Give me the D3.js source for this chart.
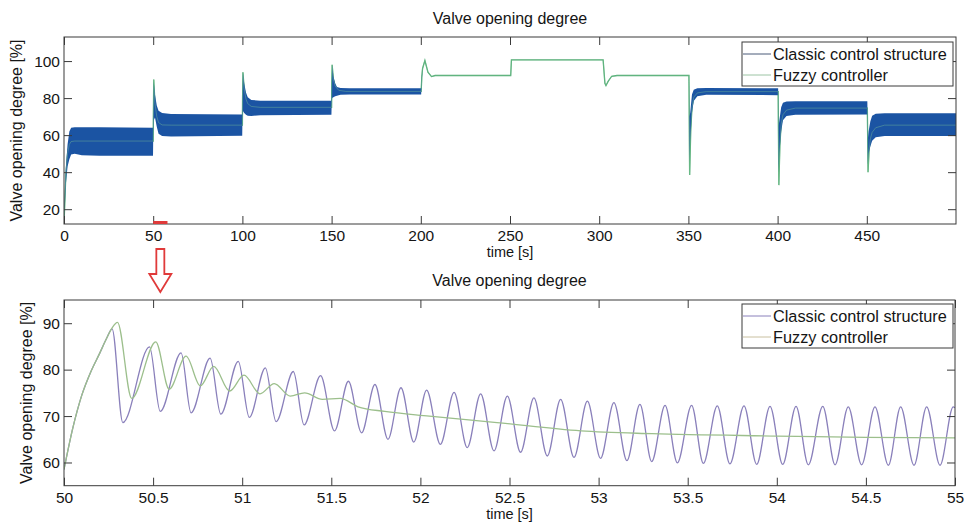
<!DOCTYPE html>
<html>
<head>
<meta charset="utf-8">
<script src="https://cdn.jsdelivr.net/npm/d3@7"></script>
<style>
  body { margin: 0; background: #ffffff; }
  text { font-family: "Liberation Sans", Arial, Helvetica, sans-serif; fill: #151515; }
</style>
</head>
<body>
<svg id="chart" width="969" height="524"></svg>
<script>
// ---------------- DATA ----------------
const seriesNames = ["Classic control structure", "Fuzzy controller"];
const chartTitle = "Valve opening degree";
const xAxisLabel = "time [s]";
const yAxisLabel = "Valve opening degree [%]";

// Overview (0–500 s)
const overviewTicksX = [0, 50, 100, 150, 200, 250, 300, 350, 400, 450];
const overviewTicksY = [20, 40, 60, 80, 100];
// Classic controller: oscillation envelope (upper / lower) of the dense band
const classicTopTime  = [0, 0.5, 1, 2, 3, 4, 6, 10, 20, 49.9, 50.02, 50.3, 51, 52, 53, 55, 60, 99.9, 100.02, 100.3, 101, 102, 103, 105, 110, 149.9, 150.02, 150.3, 151, 152, 153, 155, 160, 200.2, 200.6, 201, 202.3, 204, 206, 208, 250.4, 250.8, 302.2, 303.2, 303.8, 305, 307, 310, 350.3, 350.6, 351, 352, 353, 355, 360, 400.3, 400.6, 401, 402, 403, 405, 410, 450.3, 450.6, 451, 452, 453, 455, 460, 500];
const classicTopUpper = [12, 30, 42, 55, 62, 64, 64.3, 64.3, 64.2, 64, 72, 89, 81.8, 76, 73.2, 72, 71.4, 71.2, 80, 94, 88, 83, 80.5, 79, 78.6, 78.6, 86, 98, 92, 88, 86, 85.4, 85.3, 85.3, 92, 96, 100.3, 94, 91.6, 92.2, 92.2, 100.6, 100.6, 88, 86.8, 89, 91.8, 92.2, 92.2, 70, 72, 82, 84.5, 85.3, 85.4, 85.3, 65, 68, 75, 77.5, 78.2, 78.3, 78.3, 58, 62, 67.5, 70.5, 71.5, 71.8, 71.8];
const classicTopLower = [12, 22, 33, 43, 47, 49.5, 50, 49.2, 48.8, 48.8, 60, 68, 69.5, 64.5, 60.7, 59.5, 59.3, 59.6, 68, 73, 72, 71, 70.5, 70.3, 70.8, 71, 76, 80, 80.5, 81, 81.3, 81.8, 82, 82, 90, 96, 100.3, 94, 91.6, 92.2, 92.2, 100.6, 100.6, 88, 86.8, 89, 91.8, 92.2, 92.2, 45, 57, 72, 78.5, 81, 81.8, 81.6, 40, 50, 62, 68, 70.3, 71, 71.2, 44, 50, 54, 57, 58.8, 59.5, 59.5];
// Fuzzy controller: smooth response
const fuzzyTopTime  = [0, 0.5, 1, 2, 3, 4, 6, 50, 50.1, 50.3, 51, 52, 53, 55, 60, 100, 100.1, 100.3, 101, 102, 103, 105, 110, 150, 150.1, 150.3, 151, 152, 154, 158, 200.2, 200.6, 201, 202.3, 204, 206, 208, 250.4, 250.8, 302.2, 303.2, 303.8, 305, 307, 310, 350.3, 350.7, 351.3, 352, 353, 355, 360, 400.3, 400.7, 401.3, 402, 403, 405, 410, 450.3, 450.7, 451.3, 452, 453, 455, 460, 500];
const fuzzyTopValue = [12, 25, 38, 50, 55, 56.5, 56.8, 56.8, 70, 90, 77, 70, 66.8, 65.5, 65.4, 65.4, 80, 94, 85, 79.5, 77, 75.5, 75, 75, 88, 98, 90, 86.5, 84.2, 83.6, 83.6, 92, 96, 100.3, 94, 91.6, 92.2, 92.2, 100.6, 100.6, 88, 86.8, 89, 91.8, 92.2, 92.2, 38.5, 62, 75, 80.5, 82.8, 83.5, 83.5, 33, 55, 66, 71, 73.5, 74.6, 74.6, 40, 52, 58, 61.5, 64, 65.4, 65.4];
// zoom window marker on the overview plot
const zoomWindow = [50, 58];

// Detail (50–55 s)
const detailTicksX = [50, 50.5, 51, 51.5, 52, 52.5, 53, 53.5, 54, 54.5, 55];
const detailTicksY = [60, 70, 80, 90];
const classicZoomTime  = [50.00, 50.05, 50.10, 50.15, 50.20, 50.24, 50.27, 50.33, 50.48, 50.54, 50.657, 50.713, 50.82, 50.88, 50.978, 51.04, 51.13, 51.19, 51.287, 51.347, 51.44, 51.518, 51.596, 51.67, 51.745, 51.818, 51.891, 51.963, 52.035, 52.112, 52.189, 52.263, 52.338, 52.413, 52.488, 52.562, 52.637, 52.712, 52.787, 52.862, 52.937, 53.011, 53.086, 53.159, 53.232, 53.298, 53.373, 53.442, 53.522, 53.588, 53.666, 53.737, 53.816, 53.887, 53.962, 54.033, 54.108, 54.177, 54.258, 54.327, 54.401, 54.476, 54.551, 54.626, 54.695, 54.77, 54.841, 54.916, 54.99, 55.0];
const classicZoomValue = [58.5, 67.5, 74.5, 79.5, 83.5, 86.8, 88.8, 68.6, 84.9, 71.0, 83.6, 70.7, 82.5, 70.4, 81.8, 69.7, 80.4, 68.8, 79.6, 68.1, 78.7, 66.8, 77.5, 66.4, 76.8, 65.0, 76.1, 64.4, 75.6, 63.9, 75.1, 63.2, 74.8, 62.5, 74.3, 62.2, 73.9, 61.4, 73.6, 61.1, 73.2, 60.9, 72.9, 60.4, 72.5, 60.2, 72.3, 59.9, 72.3, 59.8, 72.2, 59.7, 72.2, 59.6, 72.1, 59.6, 72.1, 59.5, 72.1, 59.5, 72.0, 59.5, 72.0, 59.4, 72.0, 59.4, 72.0, 59.4, 72.0, 71.8];
const fuzzyZoomTime  = [50.00, 50.05, 50.10, 50.15, 50.20, 50.24, 50.27, 50.30, 50.38, 50.515, 50.59, 50.685, 50.765, 50.84, 50.93, 51.01, 51.10, 51.18, 51.27, 51.35, 51.45, 51.55, 51.65, 51.80, 52.05, 52.43, 52.9, 53.3, 54.0, 54.5, 55.0];
const fuzzyZoomValue = [58.5, 67.5, 74.5, 79.5, 83.5, 86.8, 89.0, 90.2, 73.8, 86.0, 75.8, 82.9, 76.5, 80.7, 75.4, 78.8, 74.8, 77.0, 74.3, 75.0, 73.6, 73.8, 72.0, 71.0, 70.0, 68.6, 66.8, 66.2, 65.7, 65.4, 65.3];

// ---------------- DRAWING ----------------
const svg = d3.select("#chart");
const zip2 = (a, b) => a.map((v, i) => [v, b[i]]);
const zip3 = (a, b, c) => a.map((v, i) => [v, b[i], c[i]]);

const colors = {
  classicTop: "#1b54a3",
  fuzzyTop: "#4fab72",
  classicZoom: "#8a80bb",
  fuzzyZoom: "#9cbf8c",
  frame: "#3a3a3a",
  red: "#e03a3a"
};

function drawFrame(g, x, y, box, ticksX, ticksY, fmtX) {
  const tick = 8;
  g.append("g").attr("transform", `translate(0,${box.bottom})`)
    .call(d3.axisBottom(x).tickValues(ticksX).tickSize(-tick).tickPadding(6).tickFormat(fmtX))
    .call(a => { a.select(".domain").remove(); a.selectAll("text").style("font-size", "15.5px").attr("fill", "#151515"); a.selectAll("line").attr("stroke", colors.frame); });
  g.append("g").attr("transform", `translate(0,${box.top})`)
    .call(d3.axisTop(x).tickValues(ticksX).tickSize(-tick).tickFormat(""))
    .call(a => { a.select(".domain").remove(); a.selectAll("line").attr("stroke", colors.frame); });
  g.append("g").attr("transform", `translate(${box.left},0)`)
    .call(d3.axisLeft(y).tickValues(ticksY).tickSize(-tick).tickPadding(4))
    .call(a => { a.select(".domain").remove(); a.selectAll("text").style("font-size", "15.5px").attr("fill", "#151515"); a.selectAll("line").attr("stroke", colors.frame); });
  g.append("g").attr("transform", `translate(${box.right},0)`)
    .call(d3.axisRight(y).tickValues(ticksY).tickSize(-tick).tickFormat(""))
    .call(a => { a.select(".domain").remove(); a.selectAll("line").attr("stroke", colors.frame); });
  g.append("rect").attr("x", box.left).attr("y", box.top)
    .attr("width", box.right - box.left).attr("height", box.bottom - box.top)
    .attr("fill", "none").attr("stroke", colors.frame).attr("stroke-width", 1);
}

function drawTexts(box, titleY, xlabelY, ylabelX) {
  const cx = (box.left + box.right) / 2;
  svg.append("text").attr("x", cx).attr("y", titleY).attr("text-anchor", "middle")
    .style("font-size", "16px").text(chartTitle);
  svg.append("text").attr("x", cx).attr("y", xlabelY).attr("text-anchor", "middle")
    .style("font-size", "14.5px").text(xAxisLabel);
  svg.append("text").attr("transform", `translate(${ylabelX},${(box.top + box.bottom) / 2}) rotate(-90)`)
    .attr("text-anchor", "middle").style("font-size", "16px").text(yAxisLabel);
}

function drawLegend(lx, ly, c1, c2) {
  const g = svg.append("g");
  g.append("rect").attr("x", lx).attr("y", ly).attr("width", 211).attr("height", 44)
    .attr("fill", "#fff").attr("stroke", colors.frame).attr("stroke-width", 1);
  [c1, c2].forEach((c, i) => {
    const yy = ly + 12 + i * 21;
    g.append("line").attr("x1", lx + 1).attr("x2", lx + 29).attr("y1", yy).attr("y2", yy)
      .attr("stroke", c).attr("stroke-width", 1);
    g.append("text").attr("x", lx + 31).attr("y", yy + 5.5).style("font-size", "16.3px").text(seriesNames[i]);
  });
}

// ---- Overview plot ----
const topBox = { left: 64, right: 956, top: 37, bottom: 224 };
const xTop = d3.scaleLinear().domain([0, 500]).range([topBox.left, topBox.right]);
const yTop = d3.scaleLinear().domain([12, 113]).range([topBox.bottom, topBox.top]);

const defs = svg.append("defs");
defs.append("clipPath").attr("id", "clipTop").append("rect")
  .attr("x", topBox.left).attr("y", topBox.top).attr("width", topBox.right - topBox.left).attr("height", topBox.bottom - topBox.top);

const gTop = svg.append("g");
const topPlot = gTop.append("g").attr("clip-path", "url(#clipTop)");
const fuzzyTopLine = d3.line().x(d => xTop(d[0])).y(d => yTop(d[1]));
// fuzzy underneath (visible where it leaves the band), then the band, then a faint trace on top
topPlot.append("path")
  .datum(zip2(fuzzyTopTime, fuzzyTopValue))
  .attr("d", fuzzyTopLine)
  .attr("fill", "none").attr("stroke", colors.fuzzyTop).attr("stroke-width", 1.3);
topPlot.append("path")
  .datum(zip3(classicTopTime, classicTopUpper, classicTopLower))
  .attr("d", d3.area().x(d => xTop(d[0])).y0(d => yTop(d[2])).y1(d => yTop(d[1])))
  .attr("fill", colors.classicTop).attr("stroke", "none");
topPlot.append("path")
  .datum(zip2(fuzzyTopTime, fuzzyTopValue))
  .attr("d", fuzzyTopLine)
  .attr("fill", "none").attr("stroke", "#7cc495").attr("stroke-width", 1).attr("opacity", 0.4);

drawFrame(gTop, xTop, yTop, topBox, overviewTicksX, overviewTicksY, d3.format("d"));
// zoom-window marker
gTop.append("line").attr("x1", xTop(zoomWindow[0])).attr("x2", xTop(zoomWindow[1]))
  .attr("y1", topBox.bottom - 1.5).attr("y2", topBox.bottom - 1.5)
  .attr("stroke", colors.red).attr("stroke-width", 3);
drawTexts(topBox, 24, 257, 22);
drawLegend(742, 42, "#4a5a78", "#9cc4a4");

// ---- Arrow ----
const ax = xTop((zoomWindow[0] + zoomWindow[1]) / 2);
svg.append("path")
  .attr("d", `M${ax - 4},249 L${ax + 4},249 L${ax + 4},274 L${ax + 11},274 L${ax},292 L${ax - 11},274 L${ax - 4},274 Z`)
  .attr("fill", "#fff").attr("stroke", colors.red).attr("stroke-width", 1.8).attr("stroke-linejoin", "miter");

// ---- Detail plot ----
const botBox = { left: 64, right: 955, top: 300, bottom: 485.7 };
const xBot = d3.scaleLinear().domain([50, 55]).range([botBox.left, botBox.right]);
const yBot = d3.scaleLinear().domain([55, 95]).range([botBox.bottom, botBox.top]);
defs.append("clipPath").attr("id", "clipBot").append("rect")
  .attr("x", botBox.left).attr("y", botBox.top).attr("width", botBox.right - botBox.left).attr("height", botBox.bottom - botBox.top);

const gBot = svg.append("g");
const botPlot = gBot.append("g").attr("clip-path", "url(#clipBot)");
botPlot.append("path")
  .datum(zip2(classicZoomTime, classicZoomValue))
  .attr("d", d3.line().x(d => xBot(d[0])).y(d => yBot(d[1])).curve(d3.curveMonotoneX))
  .attr("fill", "none").attr("stroke", colors.classicZoom).attr("stroke-width", 1.3);
botPlot.append("path")
  .datum(zip2(fuzzyZoomTime, fuzzyZoomValue))
  .attr("d", d3.line().x(d => xBot(d[0])).y(d => yBot(d[1])).curve(d3.curveMonotoneX))
  .attr("fill", "none").attr("stroke", colors.fuzzyZoom).attr("stroke-width", 1.3);

drawFrame(gBot, xBot, yBot, botBox, detailTicksX, detailTicksY, d3.format("~g"));
drawTexts(botBox, 286, 519, 32);
drawLegend(742, 304, colors.classicZoom, "#c9c0a0");
</script>
</body>
</html>
